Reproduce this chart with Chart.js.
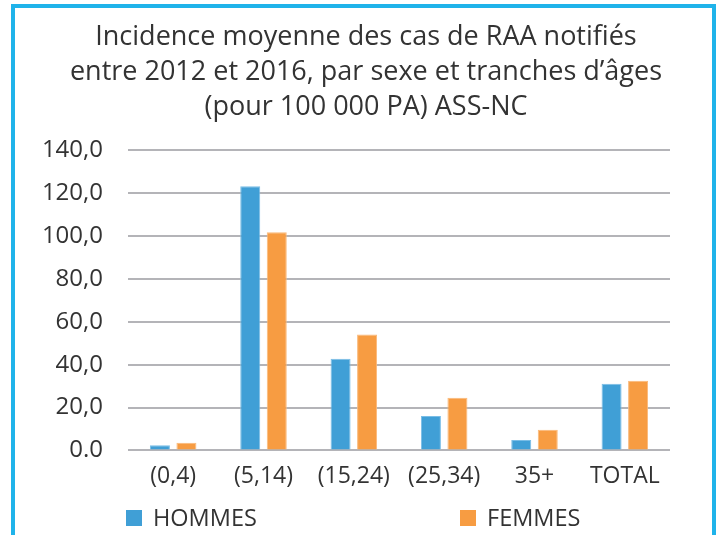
<!DOCTYPE html>
<html>
<head>
<meta charset="utf-8">
<script src="https://cdn.jsdelivr.net/npm/chart.js@4"></script>
<style>
  html, body { margin: 0; padding: 0; background: #ffffff; overflow: hidden; }
  #wrap { position: relative; width: 720px; height: 535px; overflow: hidden; }
  #frame { position: absolute; left: 11px; top: 4px; width: 705px; height: 560px; border: 4px solid #1fb3ea; box-sizing: border-box; pointer-events: none; }
  canvas { position: absolute; left: 0; top: 0; }
</style>
</head>
<body>
<div id="wrap">
  <canvas id="c" width="732" height="535"></canvas>
  <div id="frame"></div>
</div>
<script>
const titleLines = [
  "Incidence moyenne des cas de RAA notifiés",
  "entre 2012 et 2016, par sexe et tranches d’âges",
  "(pour 100 000 PA) ASS-NC"
];
const categories = ["(0,4)", "(5,14)", "(15,24)", "(25,34)", "35+", "TOTAL"];
const hommes = [2.4, 123.2, 42.7, 16.0, 4.9, 31.1];
const femmes = [3.6, 101.8, 54.1, 24.6, 9.6, 32.5];
const yTickLabels = ["0.0", "20,0", "40,0", "60,0", "80,0", "100,0", "120,0", "140,0"];
const seriesNames = ["HOMMES", "FEMMES"];

const FONT = "'Open Sans', 'Noto Sans', sans-serif";
const TXT = "#333333";

const legendPlugin = {
  id: 'customLegend',
  afterDraw(chart) {
    const ctx = chart.ctx;
    const xs = [126, 460];
    const y = 510;
    ctx.save();
    chart.data.datasets.forEach((ds, i) => {
      ctx.fillStyle = ds.backgroundColor;
      ctx.fillRect(xs[i], y, 16, 16);
      ctx.fillStyle = TXT;
      ctx.font = "23.5px " + FONT;
      ctx.textBaseline = 'middle';
      ctx.textAlign = 'left';
      ctx.fillText(ds.label, xs[i] + 27, y + 9);
    });
    ctx.restore();
  }
};

new Chart(document.getElementById('c'), {
  type: 'bar',
  data: {
    labels: categories,
    datasets: [
      { label: seriesNames[0], data: hommes, backgroundColor: '#409fd6', borderColor: '#79bde6', borderWidth: 1,
        categoryPercentage: 0.587, barPercentage: 0.755 },
      { label: seriesNames[1], data: femmes, backgroundColor: '#f79c42', borderColor: '#fab878', borderWidth: 1,
        categoryPercentage: 0.587, barPercentage: 0.755 }
    ]
  },
  options: {
    responsive: false,
    animation: false,
    layout: { padding: { left: 0, right: 0, top: 0, bottom: 33 } },
    plugins: {
      legend: { display: false },
      tooltip: { enabled: false },
      title: {
        display: true,
        text: titleLines,
        color: TXT,
        font: { family: FONT, size: 27, weight: 'normal', lineHeight: 1.3 },
        padding: { top: 20, bottom: 25 }
      }
    },
    scales: {
      x: {
        grid: { display: false, drawTicks: false },
        border: { display: false },
        ticks: { color: TXT, font: { family: FONT, size: 23 }, padding: 12, maxRotation: 0, autoSkip: false }
      },
      y: {
        min: 0, max: 140,
        afterFit(scale) { scale.width = 128; },
        grid: { color: '#b4b4b8', lineWidth: 2, drawTicks: false },
        border: { display: false },
        ticks: {
          stepSize: 20,
          color: TXT,
          padding: 25,
          font: { family: FONT, size: 24 },
          callback: (v) => yTickLabels[Math.round(v / 20)]
        }
      },
      yRight: {
        position: 'right',
        afterFit(scale) { scale.width = 62; },
        grid: { display: false, drawTicks: false },
        border: { display: false },
        ticks: { display: false }
      }
    }
  },
  plugins: [legendPlugin]
});
</script>
</body>
</html>
